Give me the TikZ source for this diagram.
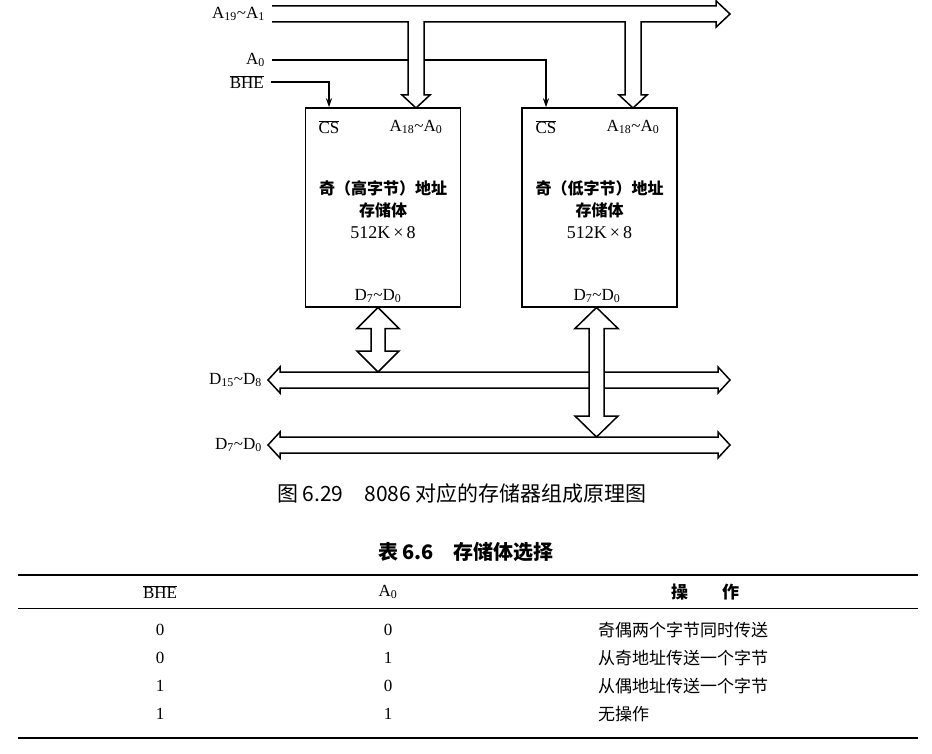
\documentclass[tikz,border=0pt]{standalone}
\usepackage{fontspec}
\setmainfont{Liberation Serif}
\newfontfamily\cjk{Noto Sans CJK SC}
\usetikzlibrary{arrows.meta}

\newcommand{\ovl}[1]{$\overline{\mbox{#1}}$}

\tikzset{
  lbl/.style={font=\fontsize{17}{20}\selectfont, inner sep=0pt},
  cjktext/.style={font=\cjk\bfseries\fontsize{16}{22}\selectfont, align=center, inner sep=0pt},
  bank/.style={draw, line width=1.5pt, minimum width=155pt, minimum height=199pt, inner sep=0pt},
  sig/.style={line width=1.3pt, -{Stealth[length=9pt,width=6pt]}},
  bus/.style={draw, fill=white, line width=1.5pt, line join=miter},
  tab/.style={font=\fontsize{17}{20}\selectfont, inner sep=0pt},
  tabcjk/.style={font=\cjk\fontsize{17}{20}\selectfont, inner sep=0pt},
}

\begin{document}
\begin{tikzpicture}[x=1pt,y=-1pt]
    \useasboundingbox (0,0) rectangle (932,754);

    % Draw the two memory banks
    \node[bank] (hi) at (383,207.5) {};
    \node[bank] (lo) at (599.5,207.5) {};

    % Text inside the banks
    \node[cjktext] (hitext) at (383,210) {奇（高字节）地址\\存储体\\{\rmfamily\mdseries\fontsize{18}{22}\selectfont 512K\,×\,8}};
    \node[cjktext] (lotext) at (599.5,210) {奇（低字节）地址\\存储体\\{\rmfamily\mdseries\fontsize{18}{22}\selectfont 512K\,×\,8}};
    \node[lbl] (hics) at (329,127) {\ovl{CS}};
    \node[lbl] (hiaddr) at (416,127) {A\textsubscript{18}\textasciitilde A\textsubscript{0}};
    \node[lbl] (hidata) at (378,296) {D\textsubscript{7}\textasciitilde D\textsubscript{0}};
    \node[lbl] (locs) at (546,127) {\ovl{CS}};
    \node[lbl] (loaddr) at (633,127) {A\textsubscript{18}\textasciitilde A\textsubscript{0}};
    \node[lbl] (lodata) at (597,296) {D\textsubscript{7}\textasciitilde D\textsubscript{0}};

    % Label the buses and signals
    \node[lbl, anchor=east] (addr) at (265,14) {A\textsubscript{19}\textasciitilde A\textsubscript{1}};
    \node[lbl, anchor=east] (azero) at (265,60) {A\textsubscript{0}};
    \node[lbl, anchor=east] (bhe) at (264,82) {\ovl{BHE}};
    \node[lbl, anchor=east] (dhigh) at (262,380) {D\textsubscript{15}\textasciitilde D\textsubscript{8}};
    \node[lbl, anchor=east] (dlow) at (262,445) {D\textsubscript{7}\textasciitilde D\textsubscript{0}};

    % Chip selects
    \draw[sig] ([xshift=7pt]bhe.east) -| (hics |- hi.north);
    \draw[sig] ([xshift=7pt]azero.east) -| (locs |- lo.north);

    % Address bus with its two branches
    \draw[bus] (272,6) -- (716,6) -- (716,0.8) -- (730,14) -- (716,27.2) -- (716,22)
        -- (641,22) -- (641,95) -- (647,95) -- (633,108) -- (619,95) -- (625,95) -- (625,22)
        -- (424,22) -- (424,95) -- (430,95) -- (416,108) -- (402,95) -- (408,95) -- (408,22)
        -- (272,22);

    % Data buses
    \draw[bus] (268,380) -- (280,367) -- (280,372) -- (718,372) -- (718,367) -- (730,380)
        -- (718,393) -- (718,388) -- (280,388) -- (280,393) -- cycle;
    \draw[bus] (268,445) -- (280,432) -- (280,437) -- (718,437) -- (718,432) -- (730,445)
        -- (718,458) -- (718,453) -- (280,453) -- (280,458) -- cycle;

    % Banks to data buses
    \draw[bus] (378,307.5) -- (399,328.5) -- (385,328.5) -- (385,351) -- (399,351) -- (378,372)
        -- (357,351) -- (371,351) -- (371,328.5) -- (357,328.5) -- cycle;
    \draw[bus] (596.5,307.5) -- (618,328.5) -- (604,328.5) -- (604,416) -- (618,416) -- (596.5,437)
        -- (575,416) -- (589,416) -- (589,328.5) -- (575,328.5) -- cycle;

    % Caption
    \node[font=\cjk\fontsize{21}{24}\selectfont] (caption) at (462,494) {图 6.29\quad 8086 对应的存储器组成原理图};

    % Table of bank selection
    \node[font=\cjk\bfseries\fontsize{20}{24}\selectfont] (tabtitle) at (466,552) {表 6.6\quad 存储体选择};
    \draw[line width=1.6pt] (18,575) -- (918,575);
    \draw[line width=0.8pt] (18,608) -- (918,608);
    \draw[line width=1.6pt] (18,738) -- (918,738);

    \node[tab] (hbhe) at (160,592) {\ovl{BHE}};
    \node[tab] (hazero) at (388,592) {A\textsubscript{0}};
    \node[tabcjk, font=\cjk\bfseries\fontsize{17}{20}\selectfont] (hop) at (705,592) {操\qquad 作};

    \node[tab] (bhea) at (160,630) {0};
    \node[tab] (azeroa) at (388,630) {0};
    \node[tabcjk, anchor=west] (opa) at (598,630) {奇偶两个字节同时传送};
    \node[tab] (bheb) at (160,658) {0};
    \node[tab] (azerob) at (388,658) {1};
    \node[tabcjk, anchor=west] (opb) at (598,658) {从奇地址传送一个字节};
    \node[tab] (bhec) at (160,686) {1};
    \node[tab] (azeroc) at (388,686) {0};
    \node[tabcjk, anchor=west] (opc) at (598,686) {从偶地址传送一个字节};
    \node[tab] (bhed) at (160,714) {1};
    \node[tab] (azerod) at (388,714) {1};
    \node[tabcjk, anchor=west] (opd) at (598,714) {无操作};

\end{tikzpicture}
\end{document}
